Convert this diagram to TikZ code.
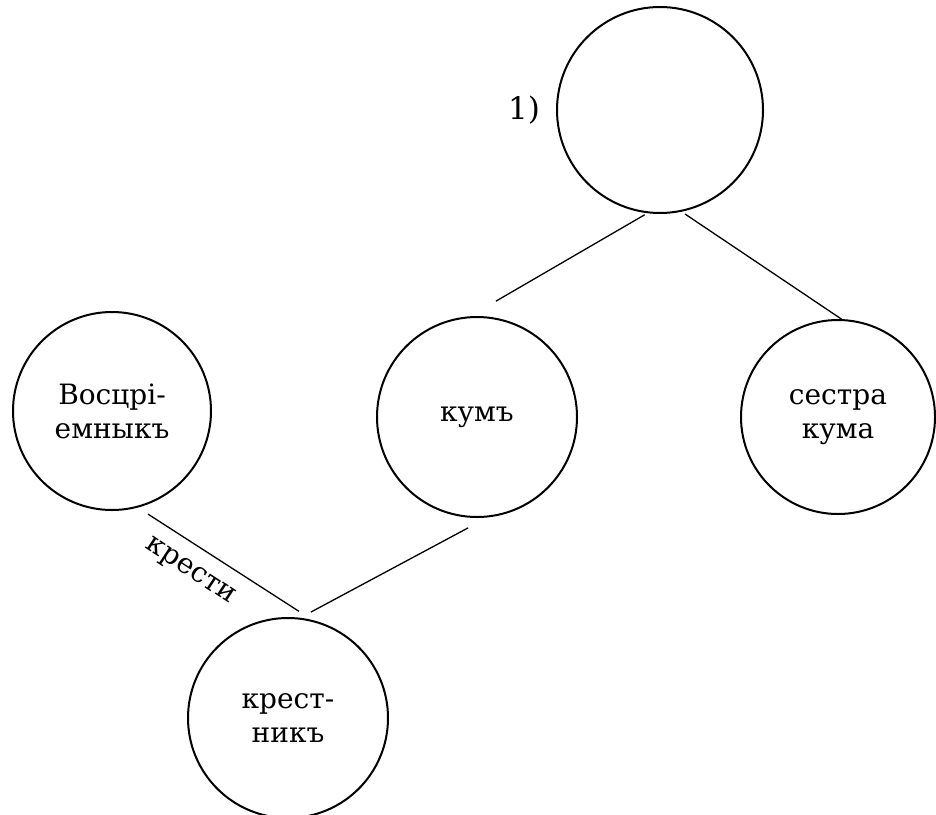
\documentclass[tikz,border=0pt]{standalone}
\usepackage{fontspec}
\setmainfont{DejaVu Serif}
\begin{document}
\begin{tikzpicture}[x=1pt,y=-1pt,
  person/.style={circle, draw, line width=2pt, minimum size=200pt, inner sep=0pt, align=center, font=\fontsize{28}{34}\selectfont},
  tie/.style={line width=1.3pt},
  lbl/.style={font=\fontsize{28}{32}\selectfont, inner sep=0pt}]
\useasboundingbox (0,0) rectangle (936,814);
\node[person, minimum size=206pt] (top) at (660,110) {};
\node[person] (kum) at (477,417) {кумъ};
\node[person, minimum size=194pt] (sestra) at (838,417) {сестра\\кума};
\node[person, minimum size=198pt] (vos) at (112,411) {Восцрі-\\емныкъ};
\node[person] (krest) at (288,718) {крест-\\никъ};
\node[lbl, font=\fontsize{31}{34}\selectfont] (num) at (524,110) {1)};
\node[lbl, rotate=-33.4] (kresti) at (190,572) {крести};
\draw[tie, shorten <=3pt, shorten >=30pt] (top.263) -- (kum.94);
\draw[tie, shorten <=4pt] (top.282) -- (sestra.88);
\draw[tie, shorten <=12pt, shorten >=16pt] (vos.285) -- (krest.76.5);
\draw[tie, shorten <=22pt, shorten >=12pt] (kum.276) -- (krest.83);
\end{tikzpicture}
\end{document}
